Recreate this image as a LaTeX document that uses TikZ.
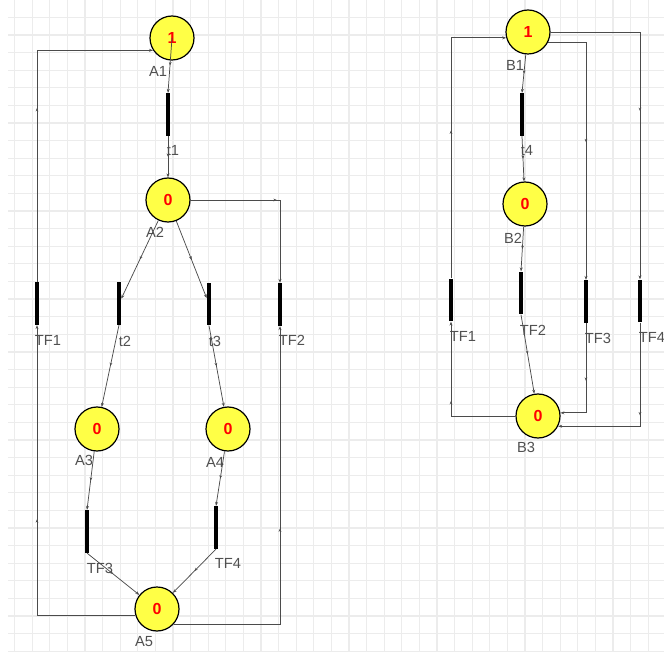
\documentclass[tikz,border=0pt]{standalone}
\usepackage{fontspec}
\setmainfont{Liberation Sans}
\usetikzlibrary{arrows.meta,decorations.markings}
\definecolor{gridc}{RGB}{236,236,236}
\definecolor{arcc}{RGB}{75,75,75}
\definecolor{placefill}{RGB}{255,255,70}
\definecolor{lblc}{RGB}{80,80,80}
\tikzset{
  gridline/.style={draw=gridc, line width=0.9pt},
  place/.style={circle, draw=black, line width=0.9pt, fill=placefill, minimum size=33pt, inner sep=0pt,
    text=red, font=\fontsize{12}{12}\selectfont\bfseries},
  trans/.style={rectangle, fill=black, minimum width=3pt, minimum height=32pt, inner sep=0pt},
  lbl/.style={text=lblc, font=\fontsize{11}{11}\selectfont, inner sep=0pt},
  pnarc/.style={draw=arcc, line width=0.55pt, -{Stealth[length=3pt,width=2.2pt]},
    postaction={decorate},
    decoration={markings, mark=at position 0.5 with {\arrow{Stealth[length=2.5pt,width=2pt]}}}}
}
\begin{document}
\begin{tikzpicture}[x=0.75pt,y=-0.75pt]
\useasboundingbox (0,0) rectangle (664,652);
\fill[white] (0,0) rectangle (664,652);
% grid
\foreach \i in {0,...,37} {\draw[gridline] ({14.5+17.6*\i},0) -- ({14.5+17.6*\i},652);}
\foreach \j in {0,...,37} {\draw[gridline] (8,{-0.1+17.6*\j}) -- (664,{-0.1+17.6*\j});}

% ---------- left net ----------
\node[place] (A1) at (172,38) {1};
\node[place] (A2) at (168,200) {0};
\node[place] (A3) at (97,429) {0};
\node[place] (A4) at (228,429) {0};
\node[place] (A5) at (157,609) {0};

\node[trans] (t1) at (168,114.5) {};
\node[trans] (TF1) at (37,303.5) {};
\node[trans] (t2) at (119,303.5) {};
\node[trans] (t3) at (209,304) {};
\node[trans] (TF2) at (280,304.5) {};
\node[trans] (TF3) at (87,531.5) {};
\node[trans] (TF4) at (216,527.5) {};

\node[lbl] (A1l) at (158,71) {A1};
\node[lbl] (A2l) at (155,232) {A2};
\node[lbl] (A3l) at (84,460) {A3};
\node[lbl] (A4l) at (215,462) {A4};
\node[lbl] (A5l) at (144,642) {A5};
\node[lbl] (t1l) at (173,151) {t1};
\node[lbl] (TF1l) at (48,340) {TF1};
\node[lbl] (t2l) at (125,341) {t2};
\node[lbl] (t3l) at (215,341) {t3};
\node[lbl] (TF2l) at (292,340) {TF2};
\node[lbl] (TF3l) at (100,568) {TF3};
\node[lbl] (TF4l) at (228,563) {TF4};

\draw[pnarc] (A1.center) -- (t1.north);
\draw[pnarc] (t1.south) -- (A2.north);
\draw[pnarc] (A2) -- (t2);
\draw[pnarc] (A2) -- (t3);
\draw[pnarc] (A2.east) -| (TF2.north);
\draw[pnarc] (t2.south) -- (A3);
\draw[pnarc] (t3.south) -- (A4);
\draw[pnarc] (A3) -- (TF3.north);
\draw[pnarc] (A4) -- (TF4.north);
\draw[pnarc] (TF3.south) -- (A5);
\draw[pnarc] (TF4.south) -- (A5);
\draw[pnarc] (A5.196) -| (TF1.south);
\draw[pnarc] (A5.-43) -| (TF2.south);
\draw[pnarc] (TF1.north) |- (A1.213);

% ---------- right net ----------
\node[place] (B1) at (528,32) {1};
\node[place] (B2) at (525,204) {0};
\node[place] (B3) at (538,416) {0};

\node[trans] (t4) at (522,114.5) {};
\node[trans] (TF1r) at (451,300) {};
\node[trans] (TF2r) at (521,293) {};
\node[trans] (TF3r) at (586,301.5) {};
\node[trans] (TF4r) at (640,301) {};

\node[lbl] (B1l) at (515,65) {B1};
\node[lbl] (B2l) at (513,238) {B2};
\node[lbl] (B3l) at (526,447) {B3};
\node[lbl] (t4l) at (527,151) {t4};
\node[lbl] (TF1rl) at (463,336) {TF1};
\node[lbl] (TF2rl) at (533,330) {TF2};
\node[lbl] (TF3rl) at (598,338) {TF3};
\node[lbl] (TF4rl) at (652,337) {TF4};

\draw[pnarc] (B1) -- (t4.north);
\draw[pnarc] (t4.south) -- (B2);
\draw[pnarc] (B2) -- (TF2r.north);
\draw[pnarc] (TF2r.south) -- (B3);
\draw[pnarc] (B3.west) -| (TF1r.south);
\draw[pnarc] (TF1r.north) |- (B1.195);
\draw[pnarc] (B1.-27) -| (TF3r.north);
\draw[pnarc] (TF3r.south) |- (B3.8);
\draw[pnarc] (B1.east) -| (TF4r.north);
\draw[pnarc] (TF4r.south) |- (B3.-27);
\end{tikzpicture}
\end{document}
